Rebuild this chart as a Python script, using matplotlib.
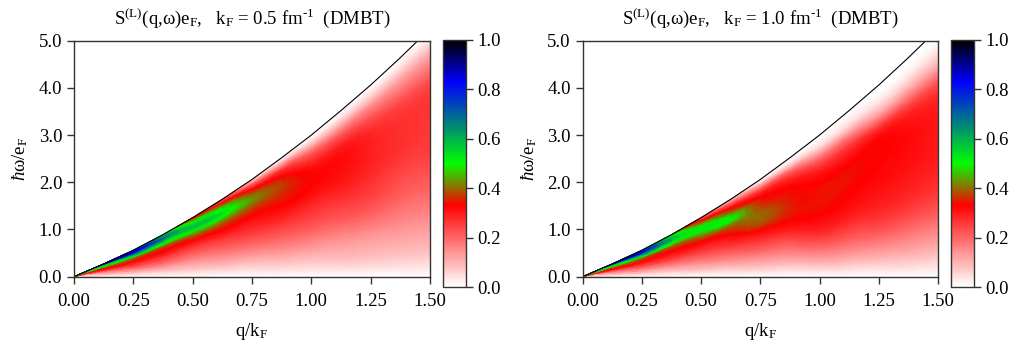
import numpy as np
import matplotlib
matplotlib.use("Agg")
import matplotlib.pyplot as plt
from matplotlib.colors import LinearSegmentedColormap
from matplotlib.tri import Triangulation, UniformTriRefiner

plt.rcParams["font.family"] = "Liberation Serif"
plt.rcParams["mathtext.fontset"] = "custom"
plt.rcParams["mathtext.rm"] = "Liberation Serif"
plt.rcParams["mathtext.it"] = "Liberation Serif:italic"

# q/kF nodes and the upper edge of the continuum (hbar*omega/eF)
q_nodes = [0.0, 0.125, 0.25, 0.375, 0.5, 0.625, 0.75, 0.875, 1.0, 1.125, 1.25, 1.375, 1.5]
edge_w = [0.0, 0.27, 0.56, 0.89, 1.25, 1.64, 2.06, 2.52, 3.0, 3.52, 4.06, 4.64, 5.25]
# fraction of the edge height, bottom -> top
t_nodes = [0.0, 0.1, 0.2, 0.3, 0.4, 0.5, 0.6, 0.7, 0.75, 0.8, 0.85, 0.9, 0.95, 1.0]

# S(q,w)*eF, one row per q node (values along t_nodes)
s_half = [
    [0, .03, .06, .09, .12, .15, .20, .25, .30, .35, .42, .55, .65, .60],
    [0, .05, .10, .15, .20, .26, .32, .38, .43, .50, .65, .85, .93, .85],
    [0, .06, .12, .18, .24, .29, .34, .42, .50, .62, .75, .87, .82, .65],
    [0, .06, .12, .18, .23, .28, .33, .38, .45, .53, .62, .70, .64, .50],
    [0, .06, .11, .16, .21, .26, .32, .40, .48, .56, .58, .53, .44, .30],
    [0, .06, .12, .17, .22, .27, .33, .40, .47, .53, .52, .45, .34, .20],
    [0, .06, .12, .18, .23, .28, .32, .37, .41, .43, .39, .32, .20, .05],
    [0, .07, .13, .19, .24, .29, .33, .36, .37, .36, .32, .25, .12, 0],
    [0, .07, .13, .19, .24, .28, .32, .33, .32, .29, .24, .16, .06, 0],
    [0, .08, .13, .19, .24, .28, .31, .32, .31, .28, .22, .14, .05, 0],
    [0, .08, .13, .19, .24, .27, .29, .29, .28, .25, .20, .13, .05, 0],
    [0, .08, .13, .18, .22, .25, .27, .27, .26, .23, .18, .12, .05, 0],
    [0, .08, .13, .18, .22, .25, .26, .26, .25, .22, .17, .11, .04, 0],
]
s_one = [
    [0, .03, .06, .09, .12, .15, .20, .26, .30, .36, .45, .58, .66, .60],
    [0, .05, .10, .15, .20, .26, .32, .38, .43, .50, .65, .85, .92, .85],
    [0, .06, .12, .18, .24, .29, .34, .42, .50, .62, .75, .84, .78, .60],
    [0, .06, .12, .18, .24, .29, .33, .38, .44, .52, .58, .60, .55, .45],
    [0, .07, .13, .19, .24, .29, .34, .42, .48, .53, .50, .42, .32, .20],
    [0, .07, .14, .20, .26, .31, .36, .46, .50, .45, .38, .30, .20, .08],
    [0, .08, .15, .22, .28, .35, .40, .38, .36, .34, .30, .22, .10, 0],
    [0, .08, .16, .23, .30, .34, .35, .34, .33, .30, .25, .16, .05, 0],
    [0, .10, .19, .27, .32, .34, .34, .32, .29, .24, .17, .08, .02, 0],
    [0, .10, .19, .26, .31, .33, .34, .32, .29, .24, .16, .07, .02, 0],
    [0, .10, .19, .26, .30, .32, .33, .33, .30, .22, .12, .05, .01, 0],
    [0, .10, .18, .25, .29, .31, .32, .31, .28, .21, .12, .05, .01, 0],
    [0, .09, .17, .24, .28, .30, .30, .29, .26, .20, .11, .05, .01, 0],
]
panels = [("0.5", s_half), ("1.0", s_one)]

cmap = LinearSegmentedColormap.from_list(
    "dmbt", [(0.0, "white"), (0.33, "red"), (0.5, "#00ff00"), (0.83, "blue"), (1.0, "black")])

fig = plt.figure(figsize=(10.16, 3.51), dpi=100)
ax_pos = [[0.0728, 0.2117, 0.3504, 0.6724], [0.5735, 0.2117, 0.3497, 0.6724]]
cb_pos = [[0.4357, 0.1823, 0.0226, 0.7040], [0.9357, 0.1823, 0.0226, 0.7040]]

Q, T = np.meshgrid(q_nodes, t_nodes, indexing="ij")
tri = Triangulation(Q.ravel(), T.ravel())
refiner = UniformTriRefiner(tri)

for i, (kf, s) in enumerate(panels):
    ax = fig.add_axes(ax_pos[i])
    fine, s_fine = refiner.refine_field(np.array(s, dtype=float).ravel(), subdiv=3)
    w_fine = fine.y * np.interp(fine.x, q_nodes, edge_w)
    disp = Triangulation(fine.x, w_fine, fine.triangles)
    m = ax.tripcolor(disp, np.clip(s_fine, 0, 1), shading="gouraud",
                     cmap=cmap, vmin=0, vmax=1)
    ax.plot(q_nodes, edge_w, color="black", lw=0.8)
    ax.set_xlim(0, 1.5)
    ax.set_ylim(0, 5)
    ax.set_xticks(np.arange(0, 1.51, 0.25))
    ax.set_xticklabels(["%.2f" % v for v in np.arange(0, 1.51, 0.25)])
    ax.set_yticks(np.arange(0, 5.01, 1.0))
    ax.set_yticklabels(["%.1f" % v for v in np.arange(0, 5.01, 1.0)])
    ax.tick_params(direction="out", length=5, width=1, labelsize=13.5, color="#333333")
    ax.tick_params(axis="x", pad=7)
    for sp in ax.spines.values():
        sp.set_color("#333333")
        sp.set_linewidth(1.0)
    ax.set_xlabel(r"q/k$_{\rm F}$", fontsize=13.5, labelpad=8)
    ax.set_ylabel(r"$\hbar$ω/e$_{\rm F}$", fontsize=13.5, labelpad=6)
    ax.set_title(r"S$^{\rm (L)}$(q,ω)e$_{\rm F}$,   k$_{\rm F}$ = " + kf
                 + r" fm$^{\text{-1}}$  (DMBT)", fontsize=13.5, pad=12)

    cax = fig.add_axes(cb_pos[i])
    cb = fig.colorbar(m, cax=cax, ticks=[0, 0.2, 0.4, 0.6, 0.8, 1.0])
    cb.ax.set_yticklabels(["0.0", "0.2", "0.4", "0.6", "0.8", "1.0"])
    cb.ax.tick_params(direction="out", length=5, width=1, labelsize=13.5, color="#333333")
    cb.outline.set_edgecolor("#333333")
    cb.outline.set_linewidth(1.0)

fig.savefig("out.png", dpi=100)
